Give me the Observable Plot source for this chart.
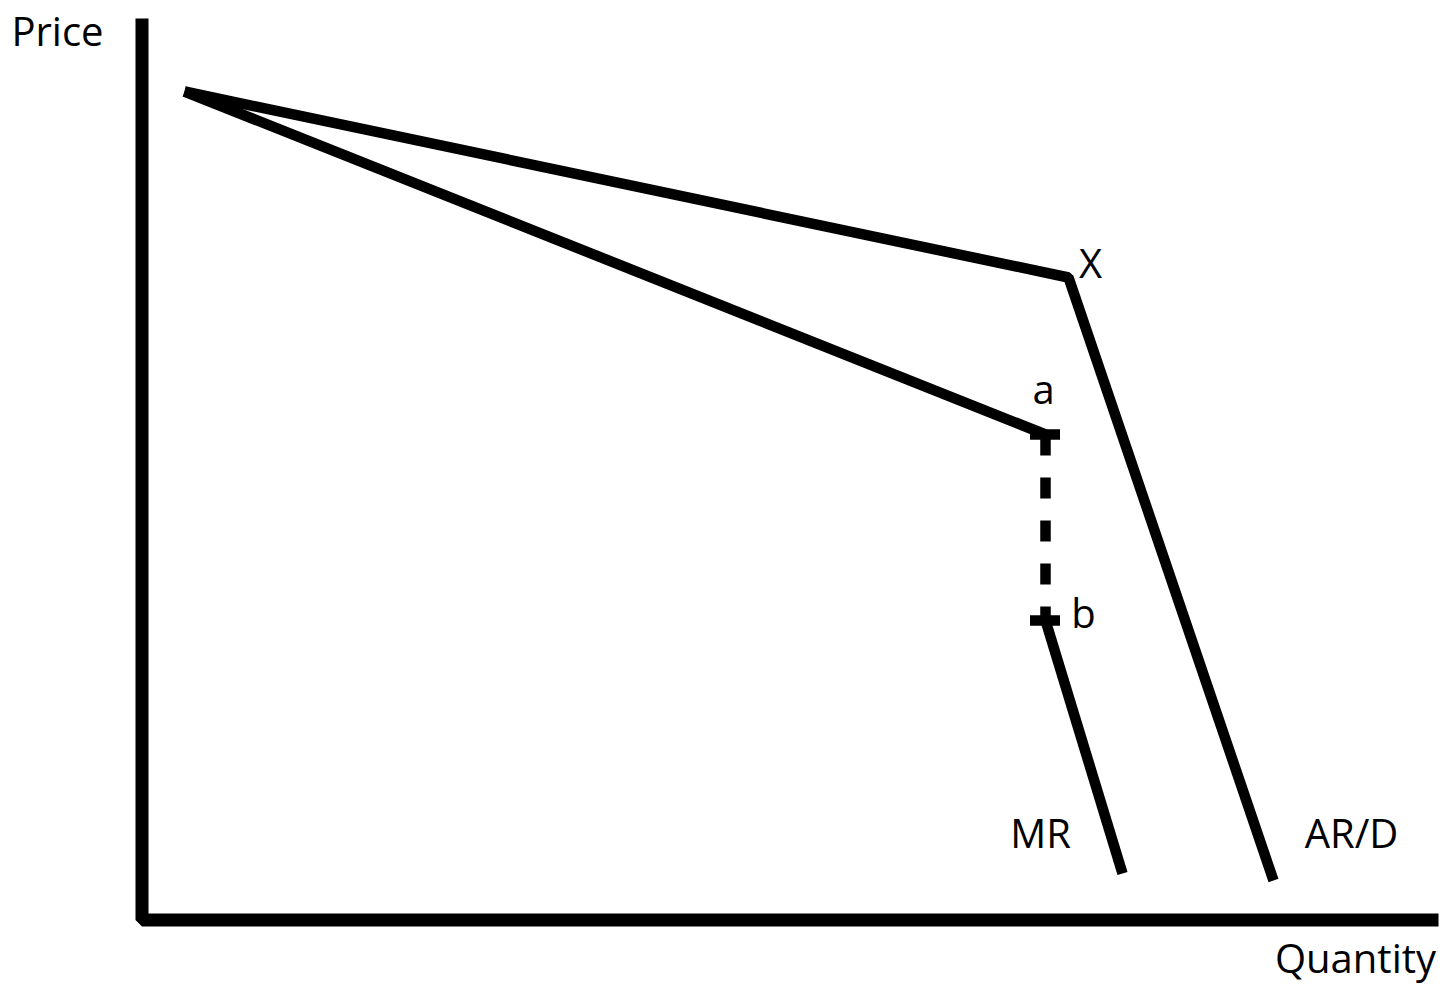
<!DOCTYPE html>
<html><head><meta charset="utf-8">
<script src="https://cdn.jsdelivr.net/npm/d3@7"></script>
<script src="https://cdn.jsdelivr.net/npm/@observablehq/plot@0.6"></script>
<style>html,body{margin:0;padding:0;background:#fff}</style>
</head><body><div id="chart"></div>
<script>
// Axis extents (quantity / price units)
const axisQuantityMax = 129.65;
const axisPriceMax = 90.15;

// Kinked demand curve AR/D
const arQ = [4.25, 92.65, 113.15];
const arP = [82.85, 64.25, 3.95];

// Marginal revenue: upper part, discontinuity, lower part
const mrUpperQ = [4.25, 90.35];
const mrUpperP = [82.85, 48.55];
const gapQ = [90.35, 90.35];
const gapP = [48.55, 29.95];
const mrLowerQ = [90.35, 98.05];
const mrLowerP = [29.95, 4.65];

// Labels
const labelText = ["Price", "Quantity", "X", "a", "b", "MR", "AR/D"];
const labelQ = [-8.45, 121.35, 94.85, 90.15, 94.15, 89.85, 120.95];
const labelP = [88.7, -4.0, 65.5, 52.9, 30.5, 8.5, 8.5];

const zip = (qs, ps) => qs.map((q, i) => ({q, p: ps[i]}));
const axisPath = [{q: 0, p: axisPriceMax}, {q: 0, p: 0}, {q: axisQuantityMax, p: 0}];
const arD = zip(arQ, arP);
const mrUpper = zip(mrUpperQ, mrUpperP);
const gap = zip(gapQ, gapP);
const mrLower = zip(mrLowerQ, mrLowerP);
const gapEnds = zip(gapQ, gapP);
const labels = labelText.map((t, i) => ({t, q: labelQ[i], p: labelP[i]}));

const lineStyle = {x: "q", y: "p", stroke: "black", strokeWidth: 10.5, strokeLinecap: "butt", strokeLinejoin: "miter", curve: "linear"};

const chart = Plot.plot({
  width: 1456,
  height: 985,
  marginLeft: 141.5,
  marginRight: 18,
  marginTop: 18,
  marginBottom: 65.5,
  x: {domain: [0, axisQuantityMax], axis: null},
  y: {domain: [0, axisPriceMax], axis: null},
  style: {fontFamily: "'Open Sans', sans-serif", fontSize: "40px", background: "white", color: "black", overflow: "visible"},
  marks: [
    Plot.line(axisPath, {x: "q", y: "p", stroke: "black", strokeWidth: 13, strokeLinecap: "butt", strokeLinejoin: "miter"}),
    Plot.line(arD, lineStyle),
    Plot.line(mrUpper, lineStyle),
    Plot.line(gap, {...lineStyle, strokeDasharray: "21,22"}),
    Plot.line(mrLower, lineStyle),
    Plot.ruleY(gapEnds, {y: "p", x1: d => d.q - 1.5, x2: d => d.q + 1.5, stroke: "black", strokeWidth: 10.5}),
    Plot.text(labels, {x: "q", y: "p", text: "t", fill: "black", fontSize: 40})
  ]
});
document.getElementById("chart").appendChild(chart);
</script>
</body></html>
